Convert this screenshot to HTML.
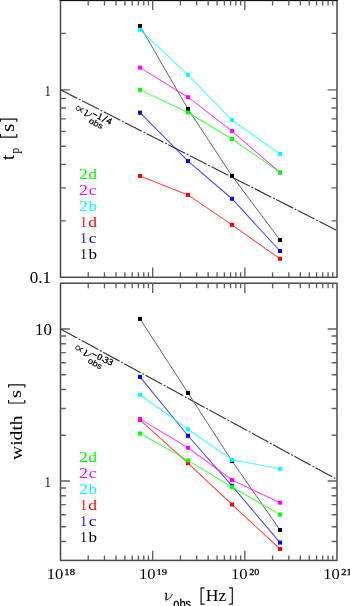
<!DOCTYPE html>
<html><head><meta charset="utf-8"><style>
html,body{margin:0;padding:0;background:#fff;overflow:hidden;}
svg{display:block;will-change:transform;}
text{font-kerning:none;}
</style></head><body>
<svg width="350" height="606" viewBox="0 0 350 606">
<rect x="60.5" y="0.4" width="276.51" height="276.90" fill="none" stroke="#4a4a4a" stroke-width="1.5"/>
<line x1="59.7" y1="0.5" x2="337.81" y2="0.5" stroke="#111" stroke-width="1"/>
<path d="M88.25 0.4v5.0M88.25 277.3v-5.0M104.48 0.4v5.0M104.48 277.3v-5.0M115.99 0.4v5.0M115.99 277.3v-5.0M124.92 0.4v5.0M124.92 277.3v-5.0M132.22 0.4v5.0M132.22 277.3v-5.0M138.39 0.4v5.0M138.39 277.3v-5.0M143.74 0.4v5.0M143.74 277.3v-5.0M148.45 0.4v5.0M148.45 277.3v-5.0M152.67 0.4v9.7M152.67 277.3v-9.7M180.42 0.4v5.0M180.42 277.3v-5.0M196.65 0.4v5.0M196.65 277.3v-5.0M208.16 0.4v5.0M208.16 277.3v-5.0M217.09 0.4v5.0M217.09 277.3v-5.0M224.39 0.4v5.0M224.39 277.3v-5.0M230.56 0.4v5.0M230.56 277.3v-5.0M235.91 0.4v5.0M235.91 277.3v-5.0M240.62 0.4v5.0M240.62 277.3v-5.0M244.84 0.4v9.7M244.84 277.3v-9.7M272.59 0.4v5.0M272.59 277.3v-5.0M288.82 0.4v5.0M288.82 277.3v-5.0M300.33 0.4v5.0M300.33 277.3v-5.0M309.26 0.4v5.0M309.26 277.3v-5.0M316.56 0.4v5.0M316.56 277.3v-5.0M322.73 0.4v5.0M322.73 277.3v-5.0M328.08 0.4v5.0M328.08 277.3v-5.0M332.79 0.4v5.0M332.79 277.3v-5.0M60.5 89.85h9.4M337.01 89.85h-9.4M60.5 220.87h5.4M337.01 220.87h-5.4M60.5 187.86h5.4M337.01 187.86h-5.4M60.5 164.44h5.4M337.01 164.44h-5.4M60.5 146.28h5.4M337.01 146.28h-5.4M60.5 131.44h5.4M337.01 131.44h-5.4M60.5 118.89h5.4M337.01 118.89h-5.4M60.5 108.02h5.4M337.01 108.02h-5.4M60.5 98.43h5.4M337.01 98.43h-5.4M60.5 33.42h5.4M337.01 33.42h-5.4" stroke="#606060" stroke-width="1.35" fill="none"/>
<rect x="60.5" y="283.2" width="276.51" height="277.20" fill="none" stroke="#4a4a4a" stroke-width="1.5"/>
<path d="M88.25 283.2v5.0M88.25 560.4v-5.0M104.48 283.2v5.0M104.48 560.4v-5.0M115.99 283.2v5.0M115.99 560.4v-5.0M124.92 283.2v5.0M124.92 560.4v-5.0M132.22 283.2v5.0M132.22 560.4v-5.0M138.39 283.2v5.0M138.39 560.4v-5.0M143.74 283.2v5.0M143.74 560.4v-5.0M148.45 283.2v5.0M148.45 560.4v-5.0M152.67 283.2v9.7M152.67 560.4v-9.7M180.42 283.2v5.0M180.42 560.4v-5.0M196.65 283.2v5.0M196.65 560.4v-5.0M208.16 283.2v5.0M208.16 560.4v-5.0M217.09 283.2v5.0M217.09 560.4v-5.0M224.39 283.2v5.0M224.39 560.4v-5.0M230.56 283.2v5.0M230.56 560.4v-5.0M235.91 283.2v5.0M235.91 560.4v-5.0M240.62 283.2v5.0M240.62 560.4v-5.0M244.84 283.2v9.7M244.84 560.4v-9.7M272.59 283.2v5.0M272.59 560.4v-5.0M288.82 283.2v5.0M288.82 560.4v-5.0M300.33 283.2v5.0M300.33 560.4v-5.0M309.26 283.2v5.0M309.26 560.4v-5.0M316.56 283.2v5.0M316.56 560.4v-5.0M322.73 283.2v5.0M322.73 560.4v-5.0M328.08 283.2v5.0M328.08 560.4v-5.0M332.79 283.2v5.0M332.79 560.4v-5.0M60.5 481.00h9.4M337.01 481.00h-9.4M60.5 329.00h9.4M337.01 329.00h-9.4M60.5 541.49h5.4M337.01 541.49h-5.4M60.5 526.76h5.4M337.01 526.76h-5.4M60.5 514.72h5.4M337.01 514.72h-5.4M60.5 504.55h5.4M337.01 504.55h-5.4M60.5 495.73h5.4M337.01 495.73h-5.4M60.5 487.96h5.4M337.01 487.96h-5.4M60.5 435.24h5.4M337.01 435.24h-5.4M60.5 408.48h5.4M337.01 408.48h-5.4M60.5 389.49h5.4M337.01 389.49h-5.4M60.5 374.76h5.4M337.01 374.76h-5.4M60.5 362.72h5.4M337.01 362.72h-5.4M60.5 352.55h5.4M337.01 352.55h-5.4M60.5 343.73h5.4M337.01 343.73h-5.4M60.5 335.96h5.4M337.01 335.96h-5.4" stroke="#606060" stroke-width="1.35" fill="none"/>
<line x1="60.5" y1="89.85" x2="337.01" y2="230.55" stroke="#363636" stroke-width="1.15" stroke-dasharray="18.8 1.9 1.9 1.6"/>
<line x1="60.5" y1="329.0" x2="337.01" y2="479.48" stroke="#363636" stroke-width="1.15" stroke-dasharray="18.8 1.9 1.9 1.6"/>
<polyline points="140,26 188,109 232,175.85 280,240.05" fill="none" stroke="#555" stroke-width="0.9"/>
<rect x="138" y="24" width="4" height="4" fill="#000"/>
<rect x="186" y="107" width="4" height="4" fill="#000"/>
<rect x="230" y="173.85" width="4" height="4" fill="#000"/>
<rect x="278" y="238.05" width="4" height="4" fill="#000"/>
<polyline points="140,112.7 188,161.15 232,198.75 280,251" fill="none" stroke="#00f" stroke-width="1.05" stroke-opacity="0.72"/>
<rect x="138" y="110.7" width="4" height="4" fill="#00f"/>
<rect x="186" y="159.15" width="4" height="4" fill="#00f"/>
<rect x="230" y="196.75" width="4" height="4" fill="#00f"/>
<rect x="278" y="249" width="4" height="4" fill="#00f"/>
<polyline points="140,176 188,194.9 232,224.9 280,258.8" fill="none" stroke="#f00" stroke-width="1.05" stroke-opacity="0.72"/>
<rect x="138" y="174" width="4" height="4" fill="#f00"/>
<rect x="186" y="192.9" width="4" height="4" fill="#f00"/>
<rect x="230" y="222.9" width="4" height="4" fill="#f00"/>
<rect x="278" y="256.8" width="4" height="4" fill="#f00"/>
<polyline points="140,29.9 188,74.85 232,120 280,154" fill="none" stroke="#0ff" stroke-width="1.05" stroke-opacity="0.72"/>
<rect x="138" y="27.9" width="4" height="4" fill="#0ff"/>
<rect x="186" y="72.85" width="4" height="4" fill="#0ff"/>
<rect x="230" y="118" width="4" height="4" fill="#0ff"/>
<rect x="278" y="152" width="4" height="4" fill="#0ff"/>
<polyline points="140,67.6 188,97.2 232,131.1 280,172.5" fill="none" stroke="#f0f" stroke-width="1.05" stroke-opacity="0.72"/>
<rect x="138" y="65.6" width="4" height="4" fill="#f0f"/>
<rect x="186" y="95.2" width="4" height="4" fill="#f0f"/>
<rect x="230" y="129.1" width="4" height="4" fill="#f0f"/>
<rect x="278" y="170.5" width="4" height="4" fill="#f0f"/>
<polyline points="140,89.85 188,112.5 232,139 280,172.4" fill="none" stroke="#0f0" stroke-width="1.05" stroke-opacity="0.72"/>
<rect x="138" y="87.85" width="4" height="4" fill="#0f0"/>
<rect x="186" y="110.5" width="4" height="4" fill="#0f0"/>
<rect x="230" y="137" width="4" height="4" fill="#0f0"/>
<rect x="278" y="170.4" width="4" height="4" fill="#0f0"/>
<polyline points="140,318.85 188,392.95 232,461 280,530" fill="none" stroke="#555" stroke-width="0.9"/>
<rect x="138" y="316.85" width="4" height="4" fill="#000"/>
<rect x="186" y="390.95" width="4" height="4" fill="#000"/>
<rect x="230" y="459" width="4" height="4" fill="#000"/>
<rect x="278" y="528" width="4" height="4" fill="#000"/>
<polyline points="140,376.9 188,435.75 232,485.8 280,542.6" fill="none" stroke="#00f" stroke-width="1.05" stroke-opacity="0.72"/>
<rect x="138" y="374.9" width="4" height="4" fill="#00f"/>
<rect x="186" y="433.75" width="4" height="4" fill="#00f"/>
<rect x="230" y="483.8" width="4" height="4" fill="#00f"/>
<rect x="278" y="540.6" width="4" height="4" fill="#00f"/>
<polyline points="140,419.8 188,463.2 232,504.5 280,549" fill="none" stroke="#f00" stroke-width="1.05" stroke-opacity="0.72"/>
<rect x="138" y="417.8" width="4" height="4" fill="#f00"/>
<rect x="186" y="461.2" width="4" height="4" fill="#f00"/>
<rect x="230" y="502.5" width="4" height="4" fill="#f00"/>
<rect x="278" y="547" width="4" height="4" fill="#f00"/>
<polyline points="140,394.8 188,429.2 232,459.8 280,468.85" fill="none" stroke="#0ff" stroke-width="1.05" stroke-opacity="0.72"/>
<rect x="138" y="392.8" width="4" height="4" fill="#0ff"/>
<rect x="186" y="427.2" width="4" height="4" fill="#0ff"/>
<rect x="230" y="457.8" width="4" height="4" fill="#0ff"/>
<rect x="278" y="466.85" width="4" height="4" fill="#0ff"/>
<polyline points="140,418.9 188,447.75 232,480 280,502.7" fill="none" stroke="#f0f" stroke-width="1.05" stroke-opacity="0.72"/>
<rect x="138" y="416.9" width="4" height="4" fill="#f0f"/>
<rect x="186" y="445.75" width="4" height="4" fill="#f0f"/>
<rect x="230" y="478" width="4" height="4" fill="#f0f"/>
<rect x="278" y="500.7" width="4" height="4" fill="#f0f"/>
<polyline points="140,433.55 188,460.4 232,486.95 280,514.6" fill="none" stroke="#0f0" stroke-width="1.05" stroke-opacity="0.72"/>
<rect x="138" y="431.55" width="4" height="4" fill="#0f0"/>
<rect x="186" y="458.4" width="4" height="4" fill="#0f0"/>
<rect x="230" y="484.95" width="4" height="4" fill="#0f0"/>
<rect x="278" y="512.6" width="4" height="4" fill="#0f0"/>
<text transform="translate(44.85,95.70) scale(0.765,1)" font-size="15.60" font-family='"Liberation Serif",serif' fill="#000">1</text>
<text transform="translate(29.65,283.08) scale(1.086,1)" font-size="15.75" font-family='"Liberation Serif",serif' fill="#000">0.1</text>
<text transform="translate(35.02,334.95) scale(1.071,1)" font-size="15.71" font-family='"Liberation Serif",serif' fill="#000">10</text>
<text transform="translate(44.85,486.90) scale(0.765,1)" font-size="15.60" font-family='"Liberation Serif",serif' fill="#000">1</text>
<text transform="translate(46.74,579.36) scale(1.119,1)" font-size="14.82" font-family='"Liberation Serif",serif' fill="#000">10</text>
<text transform="translate(64.36,574.72) scale(1.238,1)" font-size="8.60" font-family='"Liberation Serif",serif' fill="#000" stroke="#000" stroke-width="0.25">18</text>
<text transform="translate(138.91,579.36) scale(1.119,1)" font-size="14.82" font-family='"Liberation Serif",serif' fill="#000">10</text>
<text transform="translate(156.53,574.72) scale(1.237,1)" font-size="8.63" font-family='"Liberation Serif",serif' fill="#000" stroke="#000" stroke-width="0.25">19</text>
<text transform="translate(231.08,579.36) scale(1.119,1)" font-size="14.82" font-family='"Liberation Serif",serif' fill="#000">10</text>
<text transform="translate(249.19,574.72) scale(1.179,1)" font-size="8.60" font-family='"Liberation Serif",serif' fill="#000" stroke="#000" stroke-width="0.25">20</text>
<text transform="translate(323.25,579.36) scale(1.119,1)" font-size="14.82" font-family='"Liberation Serif",serif' fill="#000">10</text>
<text transform="translate(341.35,574.80) scale(1.185,1)" font-size="8.76" font-family='"Liberation Serif",serif' fill="#000" stroke="#000" stroke-width="0.25">21</text>
<text transform="translate(173.34,608.08) scale(0.914,1)" font-size="11.98" font-family='"Liberation Sans",sans-serif' fill="#000" stroke="#000" stroke-width="0.3">obs</text>
<path d="M204.6 587.9H201.1V604.1H204.6M229.1 587.9H232.3V604.1H229.1" fill="none" stroke="#111" stroke-width="1.2"/>
<text transform="translate(205.79,600.60) scale(1.123,1)" font-size="15.73" font-family='"Liberation Serif",serif' fill="#000">Hz</text>
<g transform="rotate(-90)">
<text transform="translate(-160.20,13.60) scale(1.083,1)" font-size="19.01" font-family='"Liberation Serif",serif' fill="#000">t</text>
<text transform="translate(-153.80,18.55) scale(1.013,1)" font-size="11.99" font-family='"Liberation Serif",serif' fill="#000">p</text>
<text transform="translate(-131.65,13.93) scale(1.165,1)" font-size="17.88" font-family='"Liberation Serif",serif' fill="#000">s</text>
<text transform="translate(-460.02,21.83) scale(1.141,1)" font-size="17.20" font-family='"Liberation Serif",serif' fill="#000">width</text>
<text transform="translate(-397.95,21.44) scale(1.252,1)" font-size="16.63" font-family='"Liberation Serif",serif' fill="#000">s</text>
</g>
<path d="M0.4 134.0V137.1H16.8V134.0M0.4 121.8V119.1H16.8V121.8M8.6 400.1V403.0H24.8V400.1M8.6 387.6V384.9H24.8V387.6" fill="none" stroke="#111" stroke-width="1.2"/>
<text transform="translate(79.01,178.70) scale(1.182,1)" font-size="15.20" font-family='"Liberation Serif",serif' fill="#0f0">2</text>
<text transform="translate(88.27,178.70) scale(1.151,1)" font-size="15.20" font-family='"Liberation Serif",serif' fill="#0f0">d</text>
<text transform="translate(79.01,194.78) scale(1.182,1)" font-size="15.20" font-family='"Liberation Serif",serif' fill="#f0f">2</text>
<text transform="translate(88.74,194.78) scale(1.140,1)" font-size="15.20" font-family='"Liberation Serif",serif' fill="#f0f">c</text>
<text transform="translate(79.01,210.86) scale(1.182,1)" font-size="15.20" font-family='"Liberation Serif",serif' fill="#0ff">2</text>
<text transform="translate(88.40,210.86) scale(1.125,1)" font-size="15.20" font-family='"Liberation Serif",serif' fill="#0ff">b</text>
<text transform="translate(80.33,226.94) scale(0.878,1)" font-size="15.20" font-family='"Liberation Serif",serif' fill="#f00">1</text>
<text transform="translate(88.27,226.94) scale(1.151,1)" font-size="15.20" font-family='"Liberation Serif",serif' fill="#f00">d</text>
<text transform="translate(80.33,243.02) scale(0.878,1)" font-size="15.20" font-family='"Liberation Serif",serif' fill="#00f">1</text>
<text transform="translate(88.74,243.02) scale(1.140,1)" font-size="15.20" font-family='"Liberation Serif",serif' fill="#00f">c</text>
<text transform="translate(80.33,259.10) scale(0.878,1)" font-size="15.20" font-family='"Liberation Serif",serif' fill="#000">1</text>
<text transform="translate(88.40,259.10) scale(1.125,1)" font-size="15.20" font-family='"Liberation Serif",serif' fill="#000">b</text>
<text transform="translate(79.01,462.00) scale(1.182,1)" font-size="15.20" font-family='"Liberation Serif",serif' fill="#0f0">2</text>
<text transform="translate(88.27,462.00) scale(1.151,1)" font-size="15.20" font-family='"Liberation Serif",serif' fill="#0f0">d</text>
<text transform="translate(79.01,478.08) scale(1.182,1)" font-size="15.20" font-family='"Liberation Serif",serif' fill="#f0f">2</text>
<text transform="translate(88.74,478.08) scale(1.140,1)" font-size="15.20" font-family='"Liberation Serif",serif' fill="#f0f">c</text>
<text transform="translate(79.01,494.16) scale(1.182,1)" font-size="15.20" font-family='"Liberation Serif",serif' fill="#0ff">2</text>
<text transform="translate(88.40,494.16) scale(1.125,1)" font-size="15.20" font-family='"Liberation Serif",serif' fill="#0ff">b</text>
<text transform="translate(80.33,510.24) scale(0.878,1)" font-size="15.20" font-family='"Liberation Serif",serif' fill="#f00">1</text>
<text transform="translate(88.27,510.24) scale(1.151,1)" font-size="15.20" font-family='"Liberation Serif",serif' fill="#f00">d</text>
<text transform="translate(80.33,526.32) scale(0.878,1)" font-size="15.20" font-family='"Liberation Serif",serif' fill="#00f">1</text>
<text transform="translate(88.74,526.32) scale(1.140,1)" font-size="15.20" font-family='"Liberation Serif",serif' fill="#00f">c</text>
<text transform="translate(80.33,542.40) scale(0.878,1)" font-size="15.20" font-family='"Liberation Serif",serif' fill="#000">1</text>
<text transform="translate(88.40,542.40) scale(1.125,1)" font-size="15.20" font-family='"Liberation Serif",serif' fill="#000">b</text>
<g transform="translate(60.5,89.85) rotate(26.969)">
<path d="M29.3 6.2C27.5 6.5 26.2 10.6 24.2 10.6C23.0 10.6 22.2 9.6 22.2 8.5C22.2 7.4 23.0 6.4 24.2 6.4C26.2 6.4 27.5 10.5 29.5 10.7" fill="none" stroke="#111" stroke-width="0.85"/>
<path d="M32.19 6.12C33.27 5.90 33.59 6.26 33.54 7.16L33.00 12.20" fill="none" stroke="#000" stroke-width="1.12"/>
<path d="M33.00 12.20C35.43 11.48 37.86 9.77 38.94 6.62" fill="none" stroke="#000" stroke-width="0.77"/>
<text transform="translate(39.37,9.35) scale(1.050,1)" font-size="9.20" font-family='"Liberation Serif",serif' fill="#000" stroke="#000" stroke-width="0.35">−</text>
<text transform="translate(44.95,8.84) scale(1.050,1)" font-size="9.20" font-family='"Liberation Serif",serif' fill="#000" stroke="#000" stroke-width="0.35">1</text>
<text transform="translate(51.12,9.33) scale(1.050,1)" font-size="11.50" font-family='"Liberation Serif",serif' fill="#000" stroke="#000" stroke-width="0.35">/</text>
<text transform="translate(55.17,8.53) scale(1.050,1)" font-size="9.20" font-family='"Liberation Serif",serif' fill="#000" stroke="#000" stroke-width="0.35">4</text>
<text transform="translate(39.46,16.46) scale(1.150,1)" font-size="8.00" font-family='"Liberation Sans",sans-serif' fill="#000" stroke="#000" stroke-width="0.2">obs</text>
</g>
<g transform="translate(60.5,329.0) rotate(28.556)">
<path d="M29.3 6.2C27.5 6.5 26.2 10.6 24.2 10.6C23.0 10.6 22.2 9.6 22.2 8.5C22.2 7.4 23.0 6.4 24.2 6.4C26.2 6.4 27.5 10.5 29.5 10.7" fill="none" stroke="#111" stroke-width="0.85"/>
<path d="M32.19 6.12C33.27 5.90 33.59 6.26 33.54 7.16L33.00 12.20" fill="none" stroke="#000" stroke-width="1.12"/>
<path d="M33.00 12.20C35.43 11.48 37.86 9.77 38.94 6.62" fill="none" stroke="#000" stroke-width="0.77"/>
<text transform="translate(39.47,9.25) scale(1.050,1)" font-size="9.20" font-family='"Liberation Serif",serif' fill="#000" stroke="#000" stroke-width="0.35">−</text>
<text transform="translate(45.48,8.91) scale(1.050,1)" font-size="9.20" font-family='"Liberation Serif",serif' fill="#000" stroke="#000" stroke-width="0.35">0</text>
<text transform="translate(50.69,7.71) scale(1.050,1)" font-size="9.20" font-family='"Liberation Serif",serif' fill="#000" stroke="#000" stroke-width="0.35">.</text>
<text transform="translate(52.34,8.40) scale(1.050,1)" font-size="9.20" font-family='"Liberation Serif",serif' fill="#000" stroke="#000" stroke-width="0.35">3</text>
<text transform="translate(57.34,8.10) scale(1.050,1)" font-size="9.20" font-family='"Liberation Serif",serif' fill="#000" stroke="#000" stroke-width="0.35">3</text>
<text transform="translate(39.46,16.46) scale(1.150,1)" font-size="8.00" font-family='"Liberation Sans",sans-serif' fill="#000" stroke="#000" stroke-width="0.2">obs</text>
</g>
<path d="M164.90 593.45C166.10 593.20 166.45 593.60 166.40 594.60L165.80 600.20" fill="none" stroke="#000" stroke-width="1.25"/>
<path d="M165.80 600.20C168.50 599.40 171.20 597.50 172.40 594.00" fill="none" stroke="#000" stroke-width="0.85"/>
</svg>
</body></html>
